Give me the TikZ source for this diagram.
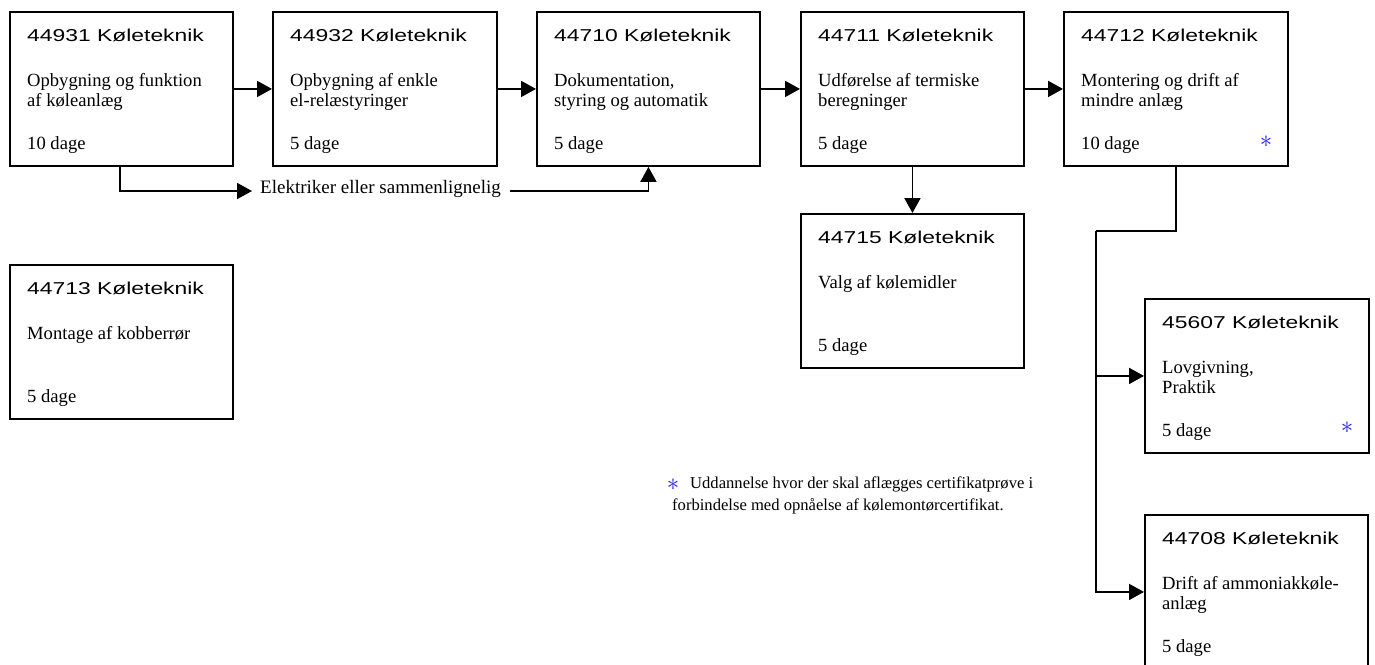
\documentclass[tikz,border=0pt]{standalone}
\usepackage{fontspec}
\setmainfont{Liberation Serif}
\newfontfamily\titlefont[FakeStretch=1.33]{Liberation Sans}
\usetikzlibrary{arrows.meta,calc}
\definecolor{starblue}{RGB}{30,30,255}
\tikzset{
  kbox/.style={draw=black, line width=1.9pt, rectangle, inner sep=0pt, anchor=north west},
  ktitle/.style={anchor=base west, inner sep=0pt, font=\titlefont\fontsize{17.2}{20}\selectfont},
  kbody/.style={anchor=base west, inner sep=0pt, font=\fontsize{18.6}{21}\selectfont},
  kstar/.style={inner sep=0pt, text=starblue, font=\fontsize{30}{30}\selectfont},
  conn/.style={line width=1.9pt, draw=black},
  arr/.style={conn, -{Triangle[length=15pt,width=16pt]}},
}
\newcommand\kursus[9]{%
  \node[kbox, minimum width=#4pt, minimum height=154pt] (#1) at (#2,#3) {};
  \node[ktitle] (#1t) at ($(#1.north west)+(18,30)$) {#5 Køleteknik};
  \node[kbody] (#1a) at ($(#1.north west)+(18,75)$) {#6};
  \node[kbody] (#1b) at ($(#1.north west)+(18,95)$) {#7};
  \node[kbody] (#1d) at ($(#1.north west)+(18,138)$) {#8};
}
\begin{document}
\begin{tikzpicture}[x=1pt,y=-1pt]
\useasboundingbox (0,0) rectangle (1375,664);
\kursus{B1}{9}{11}{223}{44931}{Opbygning og funktion}{af køleanlæg}{10 dage}{}
\kursus{B2}{272}{11}{224}{44932}{Opbygning af enkle}{el-relæstyringer}{5 dage}{}
\kursus{B3}{536}{11}{223}{44710}{Dokumentation,}{styring og automatik}{5 dage}{}
\kursus{B4}{800}{11}{223}{44711}{Udførelse af termiske}{beregninger}{5 dage}{}
\kursus{B5}{1063}{11}{224}{44712}{Montering og drift af}{mindre anlæg}{10 dage}{}
\kursus{B6}{800}{213}{223}{44715}{Valg af kølemidler}{}{5 dage}{}
\kursus{B7}{9}{264}{223}{44713}{Montage af kobberrør}{}{5 dage}{}
\kursus{B8}{1144}{298}{224}{45607}{Lovgivning,}{Praktik}{5 dage}{}
\kursus{B9}{1144}{514}{223}{44708}{Drift af ammoniakkøle-}{anlæg}{5 dage}{}
% stars
\node[kstar] (s5) at (1266,142) {$\ast$};
\node[kstar] (s8) at (1347,428) {$\ast$};
% top chain
\draw[arr] (B1.east) -- (B2.west);
\draw[arr] (B2.east) -- (B3.west);
\draw[arr] (B3.east) -- (B4.west);
\draw[arr] (B4.east) -- (B5.west);
\draw[arr] (B4.south) -- (B6.north);
% elektriker connector
\coordinate (e1) at (120,0);
\node[kbody, anchor=mid west, font=\fontsize{19}{21}\selectfont] (lbl) at (260,191) {Elektriker eller sammenlignelig};
\draw[arr] (B1.south -| e1) |- ([xshift=-8pt]lbl.mid west);
\draw[arr] ([xshift=9pt]lbl.mid east) -| (B3.south);
% branch from B5
\coordinate (j1) at (1096,231);
\draw[conn] (B5.south) |- (j1);
\draw[arr] (j1) |- (B9.west);
\draw[arr] (j1 |- B8.west) -- (B8.west);
% footnote
\node[kstar, font=\fontsize{27}{27}\selectfont] (fs) at (673,485) {$\ast$};
\node[kbody, font=\fontsize{16.6}{22}\selectfont] (fn1) at (690,488) {Uddannelse hvor der skal aflægges certifikatprøve i};
\node[kbody, font=\fontsize{16.6}{22}\selectfont] (fn2) at (672,510) {forbindelse med opnåelse af kølemontørcertifikat.};
\end{tikzpicture}
\end{document}
